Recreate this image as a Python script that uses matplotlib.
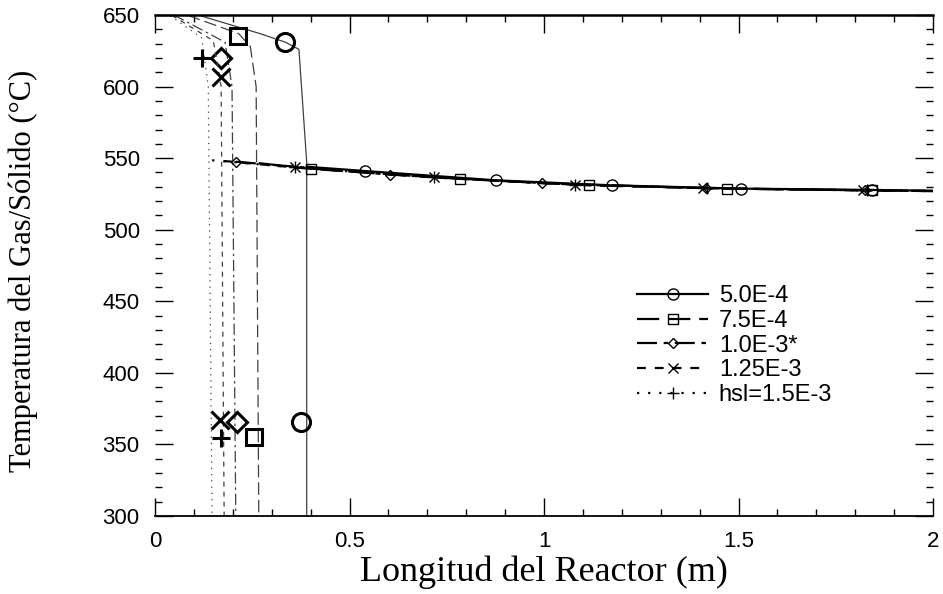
import matplotlib
matplotlib.use("Agg")
import matplotlib.pyplot as plt

# gas entry curves (top-left, dropping at the ignition point)
gas_x = {
    "c": [0.0, 0.27, 0.335, 0.37, 0.39, 0.39],
    "s": [0.0, 0.215, 0.245, 0.26, 0.267],
    "d": [0.0, 0.18, 0.198, 0.208],
    "x": [0.0, 0.15, 0.17, 0.178],
    "p": [0.0, 0.12, 0.137, 0.147],
}
gas_T = {
    "c": [659, 637, 631, 626, 547, 290],
    "s": [658, 637, 628, 600, 290],
    "d": [657, 631, 600, 290],
    "x": [657, 632, 600, 290],
    "p": [657, 634, 600, 290],
}

# nearly flat part of the profiles
flat_x = {
    "c": [0.39, 0.54, 0.877, 1.175, 1.507, 1.842, 2.0],
    "s": [0.267, 0.40, 0.785, 1.116, 1.47, 1.842, 2.0],
    "d": [0.208, 0.603, 0.994, 1.416, 1.825, 2.0],
    "x": [0.178, 0.36, 0.717, 1.08, 1.41, 1.82, 2.0],
    "p": [0.147, 0.36, 0.717, 1.08, 1.42, 1.83, 2.0],
}
flat_T = {
    "c": [544, 541, 534.5, 531, 528.7, 527.8, 527.2],
    "s": [546.5, 542.5, 535.5, 531, 528.7, 527.5, 527],
    "d": [547.5, 538.5, 532.5, 529, 527.5, 527],
    "x": [548, 543.5, 536.5, 531.5, 529, 527.5, 527],
    "p": [548.5, 543.5, 536.5, 531.5, 529, 527.5, 527],
}

# big isolated markers
top_x = {"c": 0.335, "s": 0.213, "d": 0.170, "x": 0.170, "p": 0.122}
top_T = {"c": 631, "s": 635, "d": 620, "x": 607, "p": 620}
bot_x = {"c": 0.376, "s": 0.254, "d": 0.211, "x": 0.168, "p": 0.170}
bot_T = {"c": 366, "s": 355, "d": 366, "x": 367, "p": 354.5}

labels = {"c": "5.0E-4", "s": "7.5E-4", "d": "1.0E-3*", "x": "1.25E-3", "p": "hsl=1.5E-3"}
markers = {"c": "o", "s": "s", "d": "D", "x": "x", "p": "+"}
styles = {"c": "-", "s": (0, (10, 4)), "d": (0, (9, 3, 2, 3)), "x": (0, (4, 4)), "p": (0, (1, 4))}
msmall = {"c": 8, "s": 7, "d": 5.5, "x": 7, "p": 8}
mbig = {"c": 13, "s": 12, "d": 10, "x": 13, "p": 13}

plt.rcParams["font.family"] = ["Liberation Sans", "DejaVu Sans"]

fig = plt.figure(figsize=(9.43, 5.94), dpi=100)
ax = fig.add_axes([155 / 943, 78 / 594, 778 / 943, 501 / 594])

handles = []
for k in ["c", "s", "d", "x", "p"]:
    ax.plot(gas_x[k], gas_T[k], color="0.25", ls=styles[k], lw=0.9)
    start = 0 if k == "d" else 1
    h, = ax.plot(flat_x[k], flat_T[k], color="black", ls=styles[k], lw=1.6,
                 marker=markers[k], markersize=msmall[k], markerfacecolor="none",
                 markeredgewidth=1.0, markevery=slice(start, len(flat_x[k]) - 1),
                 label=labels[k])
    handles.append(h)
    ax.plot([top_x[k], bot_x[k]], [top_T[k], bot_T[k]], ls="none", marker=markers[k],
            markersize=mbig[k], markerfacecolor="none", markeredgecolor="black",
            markeredgewidth=2.2)

ax.set_xlim(0, 2)
ax.set_ylim(300, 650)
ax.set_xticks([0, 0.5, 1, 1.5, 2])
ax.set_xticklabels(["0", "0.5", "1", "1.5", "2"])
ax.set_xticks([i / 10 for i in range(21)], minor=True)
ax.set_yticks(range(300, 651, 50))
ax.set_yticks(range(300, 651, 10), minor=True)

for side in ["left", "right"]:
    ax.spines[side].set_visible(False)
ax.spines["top"].set_linewidth(1.8)
ax.spines["bottom"].set_linewidth(1.3)

ax.tick_params(which="both", direction="in", top=True, right=True, width=1.0)
ax.tick_params(which="major", length=13, labelsize=16, pad=11)
ax.tick_params(which="minor", length=5)

ax.set_xlabel("Longitud del Reactor (m)", family="Liberation Serif", fontsize=26, labelpad=2)
ax.set_ylabel("Temperatura del Gas/Sólido (°C)", family="Liberation Serif", fontsize=22)
ax.yaxis.set_label_coords(-0.15, 0.49)

ax.legend(handles=handles, loc="center left", bbox_to_anchor=(0.62, 0.34), frameon=False,
          fontsize=17, handlelength=3.0, handletextpad=0.45, labelspacing=0.12,
          borderpad=0, borderaxespad=0)

fig.savefig("out.png", dpi=100)
